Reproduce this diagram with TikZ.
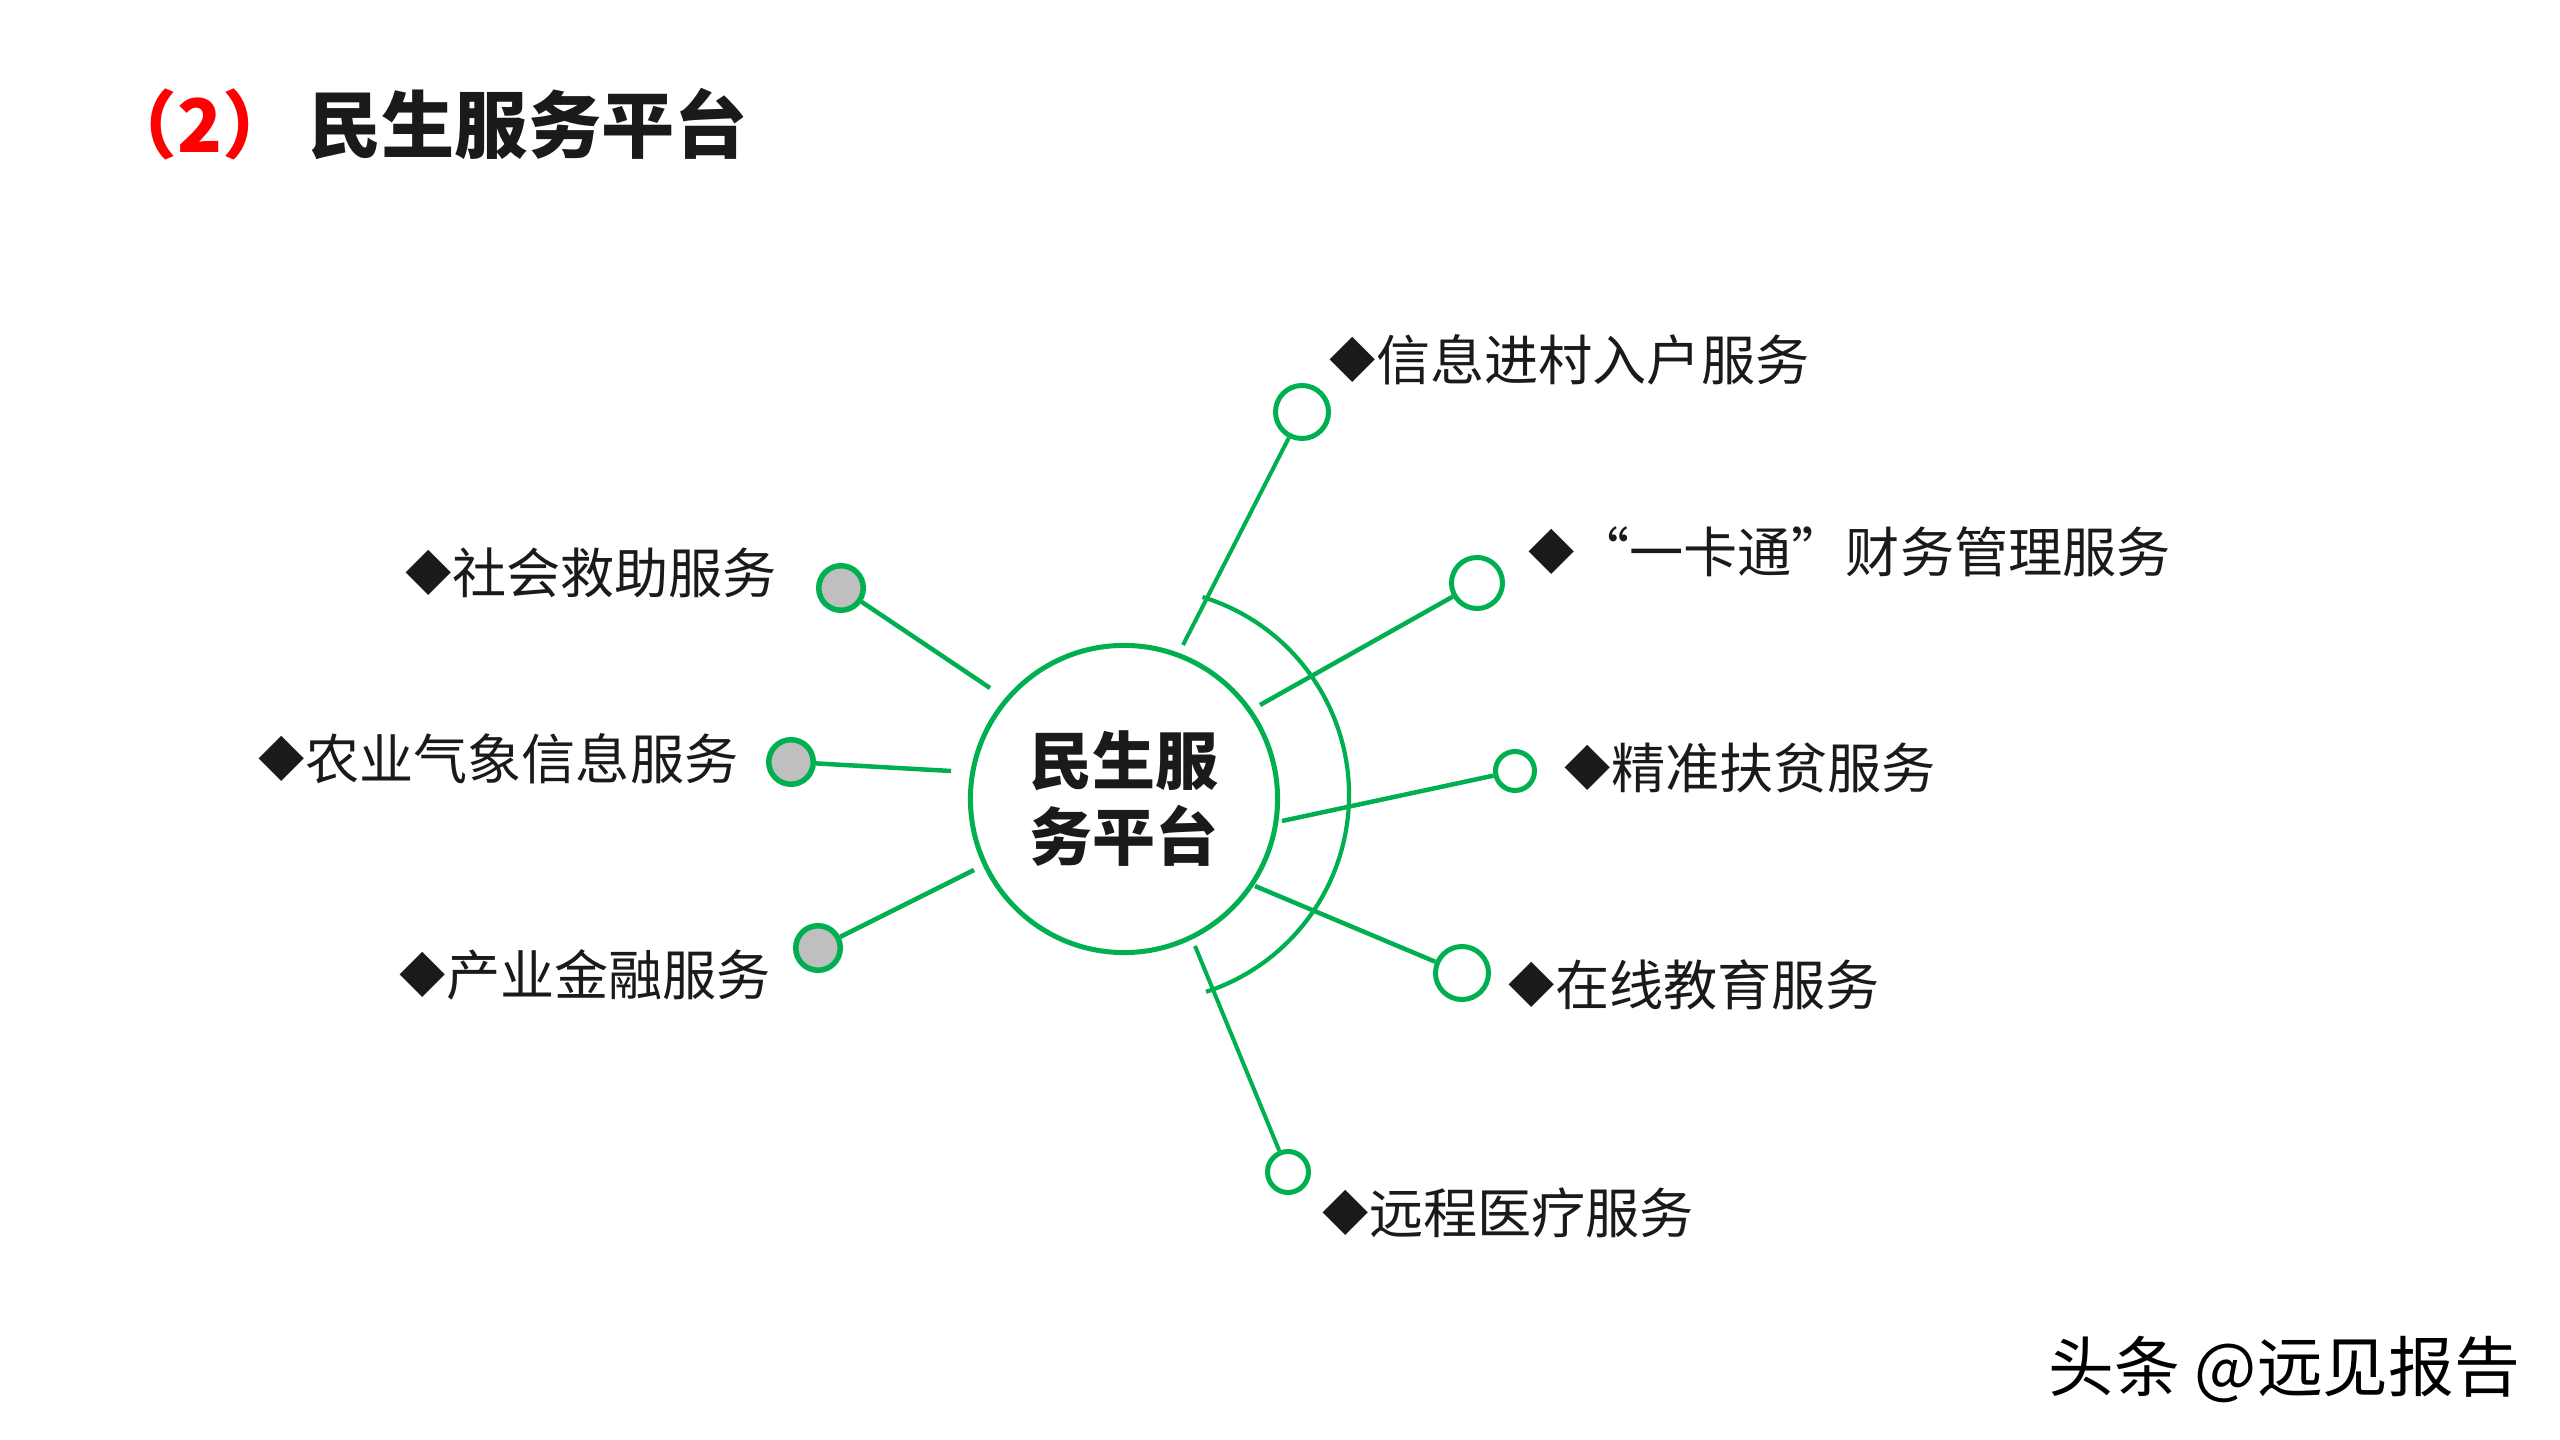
\documentclass[tikz,border=0pt]{standalone}
\usepackage{fontspec}
\setmainfont{Noto Sans CJK SC}
\definecolor{lsgreen}{HTML}{00B050}
\definecolor{lsgrey}{HTML}{BFBFBF}
\definecolor{lstext}{HTML}{1A1A1A}
\newcommand{\dmd}{{\fontsize{13.2pt}{18pt}\selectfont\raisebox{0.9pt}{◆}}}
\tikzset{
  spoke/.style={draw=lsgreen, line width=0.045cm},
  hub/.style={circle, draw=lsgreen, line width=0.05cm, fill=white, inner sep=0pt, minimum size=3.07cm,
    align=center, text=lstext, font=\bfseries\fontsize{17.9pt}{21.6pt}\selectfont},
  leafw/.style={circle, draw=lsgreen, line width=0.05cm, fill=white, inner sep=0pt},
  leafg/.style={circle, draw=lsgreen, line width=0.055cm, fill=lsgrey, inner sep=0pt, minimum size=0.445cm},
  lbl/.style={anchor=west, inner sep=0pt, text=lstext, font=\fontsize{15.4pt}{18pt}\selectfont},
}
\begin{document}
\begin{tikzpicture}[x=0.01cm, y=-0.01cm]
\useasboundingbox (0,0) rectangle (2560,1440);
\fill[white] (0,0) rectangle (2560,1440);

% title
\node[inner sep=0pt, text=red, font=\bfseries\fontsize{21pt}{24pt}\selectfont] (tnum) at (200,124) {（2）};
\node[anchor=west, inner sep=0pt, text=lstext, font=\bfseries\fontsize{20.8pt}{24pt}\selectfont] (ttl) at (308,124) {民生服务平台};

% hub
\node[hub] (c) at (1124,799) {民生服\\务平台};

% arc
\draw[spoke, line width=0.042cm] (1142,795) ++(-73:207) arc[start angle=-73, end angle=72, radius=207];

% leaf circles
\node[leafw, minimum size=0.53cm] (n1) at (1302,412) {};
\node[leafw, minimum size=0.51cm] (n2) at (1477,583) {};
\node[leafw, minimum size=0.39cm] (n3) at (1515,771) {};
\node[leafw, minimum size=0.53cm] (n4) at (1462,973) {};
\node[leafw, minimum size=0.41cm] (n5) at (1288,1172) {};
\node[leafg] (n6) at (841,588) {};
\node[leafg] (n7) at (791,762) {};
\node[leafg] (n8) at (818,948) {};

% spoke free ends near hub
\coordinate (s1) at (1183,645);
\coordinate (s2) at (1260,705);
\coordinate (s3) at (1282,821);
\coordinate (s4) at (1255,886);
\coordinate (s5) at (1195,946);
\coordinate (s6) at (990,688);
\coordinate (s7) at (951,771);
\coordinate (s8) at (974,870);

\draw[spoke, line width=0.04cm] (s1) -- (n1);
\draw[spoke] (s2) -- (n2);
\draw[spoke] (s3) -- (n3);
\draw[spoke] (s4) -- (n4);
\draw[spoke, line width=0.04cm] (s5) -- (n5);
\draw[spoke] (n6) -- (s6);
\draw[spoke] (n7) -- (s7);
\draw[spoke] (n8) -- (s8);

% labels
\node[lbl] (t1) at (1329,360) {\dmd 信息进村入户服务};
\node[lbl] (t2) at (1528,552) {\dmd“一卡通”财务管理服务};
\node[lbl] (t3) at (1564,768) {\dmd 精准扶贫服务};
\node[lbl] (t4) at (1508,985) {\dmd 在线教育服务};
\node[lbl] (t5) at (1322,1213) {\dmd 远程医疗服务};
\node[lbl] (t6) at (405,573) {\dmd 社会救助服务};
\node[lbl] (t7) at (258,759) {\dmd 农业气象信息服务};
\node[lbl] (t8) at (399,975) {\dmd 产业金融服务};

% watermark
\node[anchor=west, inner sep=0pt, text=black, font=\fontsize{18.7pt}{22pt}\selectfont] (wm) at (2048,1369) {头条 @远见报告};
\end{tikzpicture}
\end{document}
